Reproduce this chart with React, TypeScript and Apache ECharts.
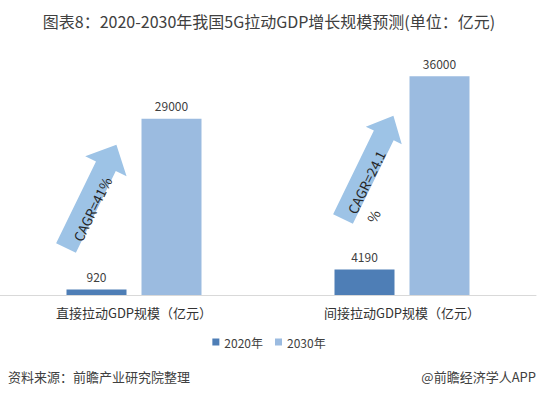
import React, { useEffect, useRef } from "react";
import * as echarts from "echarts";

const categories = ["直接拉动GDP规模（亿元）", "间接拉动GDP规模（亿元）"];
const seriesNames = ["2020年", "2030年"];
const values2020 = [920, 4190];
const values2030 = [29000, 36000];
const cagrLabels = ["CAGR=41%", "CAGR=24.1"];

const FONT = "'Noto Sans CJK SC', 'Noto Sans', sans-serif";

function arrowPoints(tx: number, ty: number, deg: number, L: number, w: number, hw: number, hl: number) {
  const a = (deg * Math.PI) / 180;
  const ux = Math.cos(a), uy = -Math.sin(a);
  const vx = Math.sin(a), vy = Math.cos(a);
  const local: [number, number][] = [
    [0, -w / 2],
    [L - hl, -w / 2],
    [L - hl, -hw / 2],
    [L, 0],
    [L - hl, hw / 2],
    [L - hl, w / 2],
    [0, w / 2],
  ];
  return local.map(([x, y]) => [tx + x * ux + y * vx, ty + x * uy + y * vy]);
}

export default function App() {
  const ref = useRef<HTMLDivElement>(null);
  useEffect(() => {
    if (!ref.current) return;
    const chart = echarts.init(ref.current, null, { renderer: "svg" });
    const rot = (64 * Math.PI) / 180;
    chart.setOption({
      animation: false,
      backgroundColor: "#ffffff",
      title: {
        text: "图表8：2020-2030年我国5G拉动GDP增长规模预测(单位：亿元)",
        left: "center",
        top: 8,
        textStyle: { fontFamily: FONT, fontSize: 16, fontWeight: "normal", color: "#404040" },
      },
      legend: {
        data: seriesNames,
        bottom: 45,
        left: "center",
        icon: "rect",
        itemWidth: 7,
        itemHeight: 7,
        itemGap: 12,
        textStyle: { fontFamily: FONT, fontSize: 12, color: "#404040" },
      },
      grid: { left: -4, width: 540, top: 52, bottom: 103, containLabel: false },
      xAxis: {
        type: "category",
        data: categories,
        axisLine: { show: true, lineStyle: { color: "#d9d9d9", width: 1 } },
        axisTick: { show: false },
        axisLabel: { fontFamily: FONT, fontSize: 13, color: "#333333", margin: 11 },
      },
      yAxis: {
        type: "value",
        min: 0,
        max: 40000,
        show: false,
        splitLine: { show: false },
      },
      series: [
        {
          name: seriesNames[0],
          type: "bar",
          data: values2020,
          barWidth: 60,
          barGap: "25%",
          itemStyle: { color: "#4E7EB6" },
          label: { show: true, position: "top", distance: 7, fontFamily: FONT, fontSize: 12, color: "#404040" },
        },
        {
          name: seriesNames[1],
          type: "bar",
          data: values2030,
          barWidth: 60,
          barGap: "25%",
          itemStyle: { color: "#9BBBE0" },
          label: { show: true, position: "top", distance: 7, fontFamily: FONT, fontSize: 12, color: "#404040" },
        },
      ],
      graphic: [
        {
          type: "polygon",
          shape: { points: arrowPoints(66, 248, 64, 115, 22, 46, 24) },
          style: { fill: "#9DC3E6" },
          z: 10,
        },
        {
          type: "polygon",
          shape: { points: arrowPoints(343, 219, 64, 115, 22, 40, 22) },
          style: { fill: "#9DC3E6" },
          z: 10,
        },
        {
          type: "text",
          x: 92,
          y: 209,
          rotation: rot,
          z: 11,
          style: { text: cagrLabels[0], fontFamily: FONT, fontSize: 13.5, fill: "#262626", align: "center", verticalAlign: "middle" },
        },
        {
          type: "text",
          x: 366,
          y: 182,
          rotation: rot,
          z: 11,
          style: { text: cagrLabels[1], fontFamily: FONT, fontSize: 13.5, fill: "#262626", align: "center", verticalAlign: "middle" },
        },
        {
          type: "text",
          x: 373,
          y: 216,
          rotation: rot,
          z: 11,
          style: { text: "%", fontFamily: FONT, fontSize: 13.5, fill: "#262626", align: "center", verticalAlign: "middle" },
        },
        {
          type: "text",
          left: 8,
          top: 370,
          style: { text: "资料来源：前瞻产业研究院整理", fontFamily: FONT, fontSize: 13, fill: "#404040" },
        },
        {
          type: "text",
          right: 2,
          top: 370,
          style: { text: "@前瞻经济学人APP", fontFamily: FONT, fontSize: 13, fill: "#404040" },
        },
      ],
    });
    return () => chart.dispose();
  }, []);
  return <div ref={ref} style={{ width: 538, height: 398, position: "absolute", left: 0, top: 0 }} />;
}
